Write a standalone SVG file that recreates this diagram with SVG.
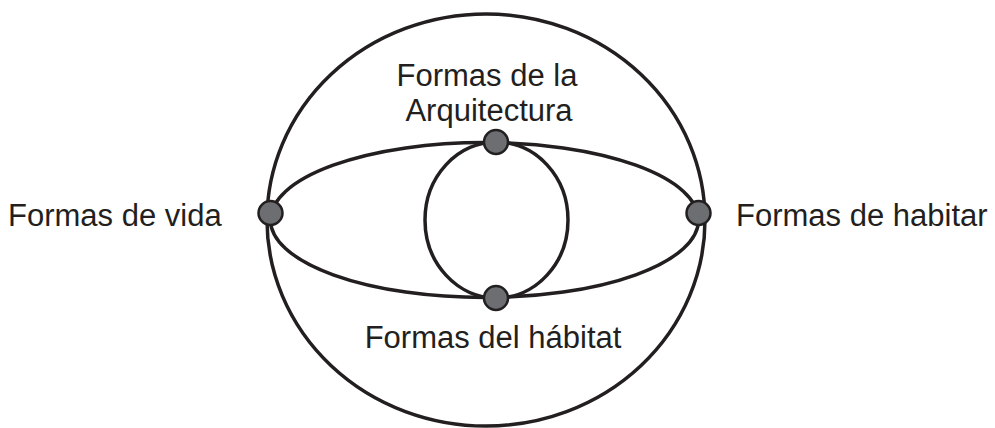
<svg xmlns="http://www.w3.org/2000/svg" width="995" height="428" viewBox="0 0 995 428">
<style>
.ln{fill:none;stroke:#231f20;stroke-width:3.5}
.nd{fill:#6d6e71;stroke:#231f20;stroke-width:2.5}
.lb{font-family:"Liberation Sans",Arial,sans-serif;font-size:31px;fill:#231f20}
</style>
<rect width="995" height="428" fill="#fff"/>
<g id="connectors">
<ellipse class="ln" cx="486" cy="220" rx="219" ry="206"/>
<ellipse class="ln" cx="484.5" cy="220" rx="214" ry="77.5"/>
<ellipse class="ln" cx="496.5" cy="220" rx="71.5" ry="78"/>
</g>
<g id="n-vida">
<circle class="nd" cx="270.5" cy="213" r="12"/>
<text class="lb" x="8" y="226">Formas de vida</text>
</g>
<g id="n-habitar">
<circle class="nd" cx="698.5" cy="213" r="12"/>
<text class="lb" x="736" y="226">Formas de habitar</text>
</g>
<g id="n-arquitectura">
<circle class="nd" cx="496" cy="142" r="12"/>
<text class="lb" text-anchor="middle" x="487" y="86">Formas de la</text>
<text class="lb" text-anchor="middle" x="489" y="121">Arquitectura</text>
</g>
<g id="n-habitat">
<circle class="nd" cx="496" cy="298" r="12"/>
<text class="lb" text-anchor="middle" x="493" y="348">Formas del hábitat</text>
</g>
</svg>
